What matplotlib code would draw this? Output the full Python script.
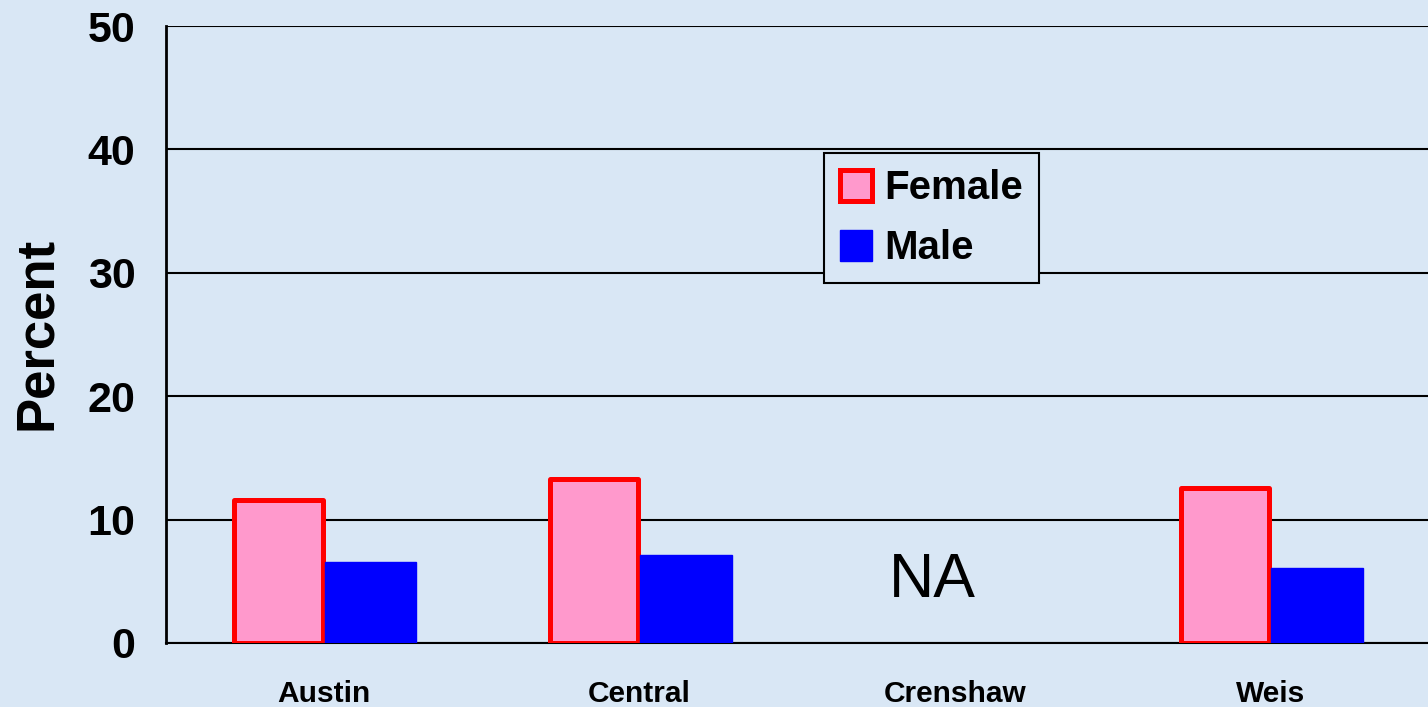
import numpy as np
import matplotlib.pyplot as plt

plt.rcParams['font.family'] = ['Liberation Sans', 'DejaVu Sans']

# Data
schools = ['Austin', 'Central', 'Crenshaw', 'Weis']
female = [11.6, 13.3, np.nan, 12.6]
male = [6.6, 7.1, np.nan, 6.1]
na_school = 'Crenshaw'

bg = '#d9e7f5'

fig = plt.figure(figsize=(14.28, 7.07), dpi=100, facecolor=bg)
ax = fig.add_axes([166 / 1428, 1 - 643 / 707, 1 - 166 / 1428, (643 - 26) / 707])
ax.set_facecolor(bg)

x = np.arange(len(schools))
w = 0.28
ax.bar(x - 0.143, female, w, color='#ff99cc', edgecolor='#ff0000',
       linewidth=3.6, label='Female', zorder=3, joinstyle='round')
ax.bar(x + 0.148, male, w + 0.01, color='#0000ff', edgecolor='#0000ff',
       linewidth=1.0, label='Male', zorder=4)

# NA note for the missing school
ax.text(schools.index(na_school) - 0.07, 5.1, 'NA', fontsize=45,
        ha='center', va='center', zorder=5)

ax.set_xlim(-0.5, 3.5)
ax.set_ylim(0, 50)
ax.set_yticks([0, 10, 20, 30, 40, 50])
ax.set_xticks(x)
ax.set_xticklabels(schools, fontsize=21.5, fontweight='bold')
ax.tick_params(axis='x', length=0, pad=27)
ax.tick_params(axis='y', length=0, pad=22, labelsize=31)
for lab in ax.get_yticklabels():
    lab.set_fontweight('bold')

ax.yaxis.grid(True, color='black', linewidth=1.5, zorder=1)
ax.set_axisbelow(True)
for s in ['top', 'right']:
    ax.spines[s].set_visible(False)
ax.spines['left'].set_linewidth(2)
ax.spines['bottom'].set_linewidth(1.5)

fig.text(37 / 1428, 1 - 333 / 707, 'Percent', rotation=90, fontsize=38,
         fontweight='bold', ha='center', va='center')

leg = ax.legend(loc='upper left', bbox_to_anchor=(0.5214, 0.794),
                borderaxespad=0, fancybox=False, framealpha=1,
                prop={'size': 29, 'weight': 'bold'}, handlelength=0.8,
                handleheight=0.8, handletextpad=0.3, labelspacing=0.55,
                borderpad=0.4, facecolor=bg, edgecolor='black')
leg.get_frame().set_linewidth(1.5)

fig.savefig('out.png', dpi=100, facecolor=bg)
